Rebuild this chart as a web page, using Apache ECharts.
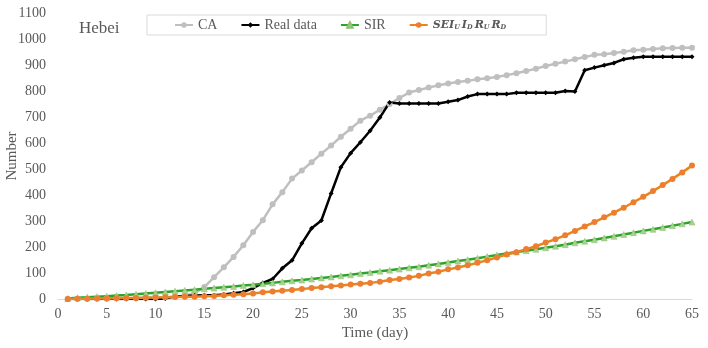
<!DOCTYPE html>
<html>
<head>
<meta charset="utf-8">
<script src="https://cdn.jsdelivr.net/npm/echarts@6/dist/echarts.min.js"></script>
<style>
  html, body { margin: 0; padding: 0; background: #fff; }
  #main { width: 708px; height: 348px; }
</style>
</head>
<body>
<div id="main"></div>
<script>
const days = Array.from({ length: 65 }, (_, i) => i + 1);

const caValues = [
  0, 1, 1, 2, 2, 3, 3, 4, 5, 6, 7, 9, 13, 22, 46,
  84, 122, 162, 207, 258, 303, 364, 411, 463, 494, 526, 559, 590, 624, 655,
  686, 705, 728, 750, 773, 794, 804, 813, 822, 829, 835, 839, 845, 849, 854,
  861, 868, 877, 886, 896, 905, 913, 922, 931, 939, 941, 946, 951, 957, 959,
  962, 964, 965, 966, 966
];

const realValues = [
  0, 0, 0, 0, 0, 0, 0, 0, 0, 0, 2, 10, 12, 13, 14,
  14, 17, 22, 27, 42, 62, 77, 118, 149, 214, 272, 302, 406, 507, 561,
  603, 647, 698, 756, 752, 752, 752, 752, 752, 759, 765, 779, 788, 788, 788,
  788, 793, 793, 793, 793, 793, 800, 798, 880, 890, 899, 908, 922, 928, 932,
  932, 932, 932, 932, 932
];

const sirValues = [
  2, 5, 7, 9, 11, 13, 15, 18, 21, 24, 27, 30, 33, 36, 39,
  42, 45, 48, 52, 55, 59, 62, 66, 70, 73, 77, 81, 85, 89, 93,
  98, 102, 107, 111, 115, 120, 124, 130, 135, 140, 146, 151, 157, 163, 169,
  175, 181, 186, 191, 197, 203, 209, 216, 222, 228, 235, 241, 248, 255, 262,
  268, 275, 282, 289, 296
];

const seirValues = [
  0, 1, 1, 2, 2, 3, 4, 4, 5, 6, 7, 8, 9, 9, 11,
  12, 14, 16, 18, 21, 26, 29, 32, 35, 38, 42, 45, 49, 52, 56,
  59, 62, 66, 73, 77, 83, 89, 98, 105, 114, 121, 130, 139, 149, 160,
  171, 180, 192, 203, 217, 230, 245, 262, 279, 296, 314, 332, 351, 372, 393,
  415, 438, 462, 487, 513
];

const xTicks = { min: 0, max: 65, interval: 5 };
const yTicks = { min: 0, max: 1100, interval: 100 };

const font = "'Liberation Serif', 'Times New Roman', serif";
const textGrey = "#595959";

const pairs = (vals) => days.map((d, i) => [d, vals[i]]);

const chart = echarts.init(document.getElementById("main"));

chart.setOption({
  backgroundColor: "#fff",
  animation: false,
  textStyle: { fontFamily: font },
  grid: { left: 58, right: 16, top: 13, bottom: 49, outerBoundsMode: "none" },
  title: {
    text: "Hebei",
    left: 74,
    top: 15,
    textStyle: { fontFamily: font, fontSize: 17, fontWeight: "normal", color: textGrey },
  },
  legend: {
    left: 147,
    top: 15,
    padding: [3, 40, 3, 27],
    borderColor: "#d9d9d9",
    borderWidth: 1,
    itemWidth: 18,
    itemHeight: 7,
    itemGap: 23,
    textStyle: {
      fontFamily: font,
      fontSize: 14,
      color: textGrey,
      rich: {
        m: { fontFamily: "'DejaVu Serif', serif", fontStyle: "italic", fontWeight: "bold", fontSize: 11, color: textGrey },
        s: { fontFamily: "'DejaVu Serif', serif", fontStyle: "italic", fontWeight: "bold", fontSize: 6.5, color: textGrey, padding: [5, 2, 0, 0] },
      },
    },
    formatter: (name) =>
      name === "SEIR"
        ? "{m|SEI}{s|U}{m|I}{s|D}{m|R}{s|U}{m|R}{s|D}"
        : name,
    data: ["CA", "Real data", "SIR", "SEIR"],
  },
  xAxis: {
    type: "value",
    min: xTicks.min,
    max: xTicks.max,
    interval: xTicks.interval,
    name: "Time (day)",
    nameLocation: "middle",
    nameGap: 23,
    nameTextStyle: { fontFamily: font, fontSize: 15, color: textGrey },
    axisLine: { lineStyle: { color: "#d9d9d9" } },
    axisTick: { show: false },
    axisLabel: { fontFamily: font, fontSize: 14, color: textGrey, margin: 8 },
    splitLine: { show: false },
  },
  yAxis: {
    type: "value",
    min: yTicks.min,
    max: yTicks.max,
    interval: yTicks.interval,
    name: "Number",
    nameLocation: "middle",
    nameGap: 38,
    nameMoveOverlap: false,
    nameTextStyle: { fontFamily: font, fontSize: 15, color: textGrey },
    axisLine: { show: false },
    axisTick: { show: false },
    axisLabel: { fontFamily: font, fontSize: 14, color: textGrey, margin: 12, formatter: (v) => String(v) },
    splitLine: { show: false },
  },
  series: [
    {
      name: "CA",
      type: "line",
      data: pairs(caValues),
      symbol: "circle",
      symbolSize: 6,
      lineStyle: { color: "#bfbfbf", width: 2.5 },
      itemStyle: { color: "#bfbfbf" },
    },
    {
      name: "Real data",
      type: "line",
      data: pairs(realValues),
      symbol: "diamond",
      symbolSize: 5,
      lineStyle: { color: "#000", width: 2.5 },
      itemStyle: { color: "#000" },
    },
    {
      name: "SIR",
      type: "line",
      data: pairs(sirValues),
      symbol: "triangle",
      symbolSize: 6,
      lineStyle: { color: "#2aa52a", width: 2.5 },
      itemStyle: { color: "#a9d18e", borderColor: "#8fbf70", borderWidth: 0.5 },
    },
    {
      name: "SEIR",
      type: "line",
      data: pairs(seirValues),
      symbol: "circle",
      symbolSize: 6,
      lineStyle: { color: "#e8861a", width: 2.5 },
      itemStyle: { color: "#ed7d31" },
    },
  ],
});
</script>
</body>
</html>
